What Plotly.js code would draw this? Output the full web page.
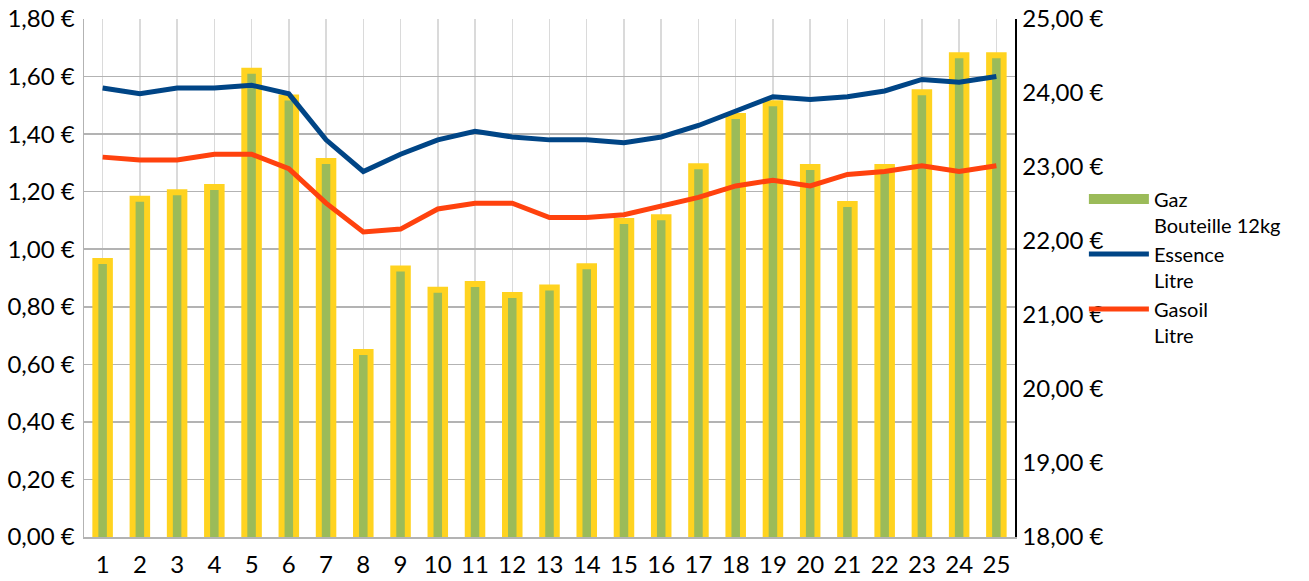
<!DOCTYPE html>
<html>
<head>
<meta charset="utf-8">
<script src="https://cdn.plot.ly/plotly-3.0.1.min.js"></script>
<style>html,body{margin:0;padding:0;background:#fff;}#chart{width:1309px;height:581px;}</style>
</head>
<body>
<div id="chart"></div>
<script>
const categories = [1,2,3,4,5,6,7,8,9,10,11,12,13,14,15,16,17,18,19,20,21,22,23,24,25];
const gazBouteille = [21.73,22.57,22.66,22.73,24.30,23.94,23.08,20.50,21.63,21.34,21.42,21.27,21.37,21.66,22.27,22.32,23.01,23.69,23.86,23.00,22.50,23.00,24.01,24.51,24.51];
const essenceLitre = [1.56,1.54,1.56,1.56,1.57,1.54,1.38,1.27,1.33,1.38,1.41,1.39,1.38,1.38,1.37,1.39,1.43,1.48,1.53,1.52,1.53,1.55,1.59,1.58,1.60];
const gasoilLitre = [1.32,1.31,1.31,1.33,1.33,1.28,1.16,1.06,1.07,1.14,1.16,1.16,1.11,1.11,1.12,1.15,1.18,1.22,1.24,1.22,1.26,1.27,1.29,1.27,1.29];
const seriesNames = ['Gaz<br>Bouteille 12kg', 'Essence<br>Litre', 'Gasoil<br>Litre'];

const FONT = 'Lato, "Liberation Sans", sans-serif';
const GREEN = '#9bbb59', YELLOW = '#ffd320', BLUE = '#004586', ORANGE = '#ff420e';

const traces = [
  {
    type: 'bar', name: seriesNames[0], x: categories, y: gazBouteille,
    yaxis: 'y', width: 0.39, legendgroup: 'g1', showlegend: false,
    marker: {color: GREEN, line: {color: YELLOW, width: 6}}
  },
  {
    // legend swatch for the bar series (wide rectangle like the original)
    type: 'scatter', mode: 'lines', name: seriesNames[0], x: [null], y: [null],
    yaxis: 'y', legendgroup: 'g1', showlegend: true, hoverinfo: 'skip',
    line: {color: GREEN, width: 13}
  },
  {
    type: 'scatter', mode: 'lines', name: seriesNames[1], x: categories, y: essenceLitre,
    yaxis: 'y2', legendgroup: 'g2', line: {color: BLUE, width: 5}
  },
  {
    type: 'scatter', mode: 'lines', name: seriesNames[2], x: categories, y: gasoilLitre,
    yaxis: 'y2', legendgroup: 'g3', line: {color: ORANGE, width: 5}
  }
];

const layout = {
  width: 1309, height: 581,
  margin: {l: 84, r: 294, t: 19, b: 44},
  paper_bgcolor: '#fff', plot_bgcolor: '#fff',
  separators: ', ',
  font: {family: FONT, size: 24, color: '#000'},
  showlegend: true,
  legend: {
    x: 1.074, xanchor: 'left', y: 0.69, yanchor: 'top',
    font: {family: FONT, size: 20, color: '#000'},
    valign: 'top', itemwidth: 60, traceorder: 'grouped', tracegroupgap: 0,
    bgcolor: 'rgba(0,0,0,0)'
  },
  bargap: 0,
  xaxis: {
    range: [0.5, 25.5], tickmode: 'array', tickvals: categories, ticktext: categories.map(String),
    showgrid: true, gridcolor: '#dadada', gridwidth: 1.5,
    showline: true, linecolor: '#b3b3b3', linewidth: 1.5,
    ticks: '', ticklabelstandoff: 6, zeroline: false, fixedrange: true
  },
  yaxis: {
    side: 'right', range: [18, 25], dtick: 1, tick0: 18,
    tickformat: '.2f', ticksuffix: ' €',
    showgrid: false, zeroline: false,
    showline: true, linecolor: '#000', linewidth: 1.5,
    ticks: '', ticklabelstandoff: 1
  },
  yaxis2: {
    side: 'left', overlaying: 'y', range: [0, 1.8], dtick: 0.2, tick0: 0,
    tickformat: '.2f', ticksuffix: ' €',
    showgrid: true, gridcolor: '#b3b3b3', gridwidth: 1.5,
    zeroline: false, showline: true, linecolor: '#b3b3b3', linewidth: 1.5,
    ticks: '', ticklabelstandoff: 3
  }
};

Plotly.newPlot('chart', traces, layout, {displayModeBar: false, staticPlot: true});
</script>
</body>
</html>
